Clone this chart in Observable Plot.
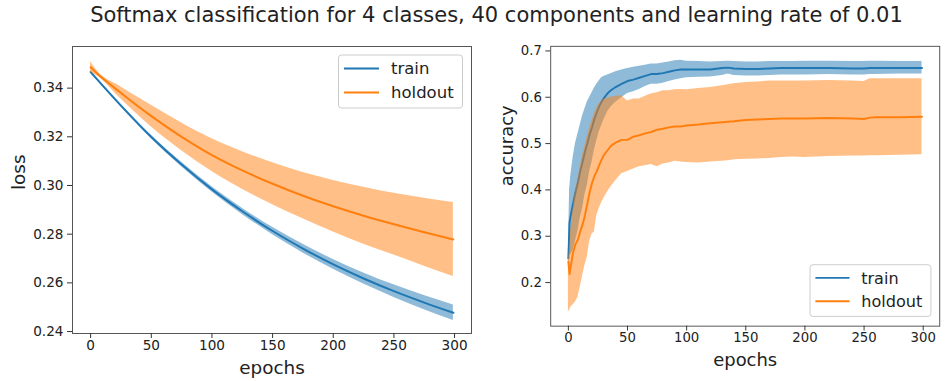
<!DOCTYPE html>
<html>
<head>
<meta charset="utf-8">
<script src="https://cdn.jsdelivr.net/npm/d3@7"></script>
<script src="https://cdn.jsdelivr.net/npm/@observablehq/plot@0.6"></script>
<style>
  html, body { margin: 0; padding: 0; background: #fff; overflow: hidden; }
  #page { position: relative; width: 948px; height: 381px; overflow: hidden; font-family: "DejaVu Sans", sans-serif; }
  #title { position: absolute; left: 0; top: 3px; width: 993px; text-align: center; font-size: 21px; color: #222; white-space: nowrap; }
  .panel { position: absolute; top: 40px; }
</style>
</head>
<body>
<div id="page">
  <div id="title">Softmax classification for 4 classes, 40 components and learning rate of 0.01</div>
  <div id="left" class="panel" style="left:0px"></div>
  <div id="right" class="panel" style="left:480px"></div>
</div>
<script>
// Series names and colours
const seriesNames = ["train", "holdout"];
const seriesColors = ["#1f77b4", "#ff7f0e"];

// Shared epoch ticks
const epochTicks = [0, 50, 100, 150, 200, 250, 300];

// Loss: mean and spread per epoch
const lossEpochs = [0, 5, 25, 50, 75, 100, 125, 150, 175, 200, 225, 250, 275, 299];
const trainLoss = [0.3466, 0.3438, 0.3328, 0.3199, 0.3086, 0.2984, 0.2894, 0.2813, 0.2741, 0.2676, 0.2618, 0.2566, 0.2519, 0.2477];
const trainLossStd = [0.0004, 0.0004, 0.0005, 0.0007, 0.0009, 0.0011, 0.0013, 0.0015, 0.0018, 0.0020, 0.0023, 0.0026, 0.0029, 0.0032];
const holdoutLoss = [0.3486, 0.3462, 0.3380, 0.3285, 0.3200, 0.3125, 0.3062, 0.3007, 0.2958, 0.2915, 0.2876, 0.2841, 0.2808, 0.2778];
const holdoutLossStd = [0.0022, 0.0011, 0.0025, 0.0045, 0.0057, 0.0067, 0.0077, 0.0086, 0.0095, 0.0106, 0.0117, 0.0127, 0.0140, 0.0152];
const lossTicks = [0.24, 0.26, 0.28, 0.30, 0.32, 0.34];

// Accuracy: mean with lower / upper band per epoch
const accEpochs = [
  0, 1, 2, 4, 6, 8, 10, 12, 14, 16,
  18, 20, 22, 24, 26, 28, 30, 33, 36, 40,
  45, 50, 55, 60, 65, 70, 75, 80, 85, 90,
  95, 100, 110, 120, 130, 135, 140, 150, 160, 170,
  180, 190, 200, 220, 240, 250, 255, 260, 280, 299
];
const trainAcc = [
  0.252, 0.330, 0.345, 0.370, 0.395, 0.415, 0.440, 0.460, 0.482, 0.500,
  0.520, 0.535, 0.553, 0.567, 0.580, 0.590, 0.598, 0.608, 0.615, 0.622,
  0.629, 0.635, 0.638, 0.642, 0.646, 0.650, 0.650, 0.652, 0.655, 0.658,
  0.660, 0.660, 0.660, 0.660, 0.663, 0.664, 0.662, 0.661, 0.661, 0.662,
  0.663, 0.663, 0.663, 0.663, 0.662, 0.662, 0.663, 0.663, 0.663, 0.663
];
const trainAccHi = [
  0.262, 0.400, 0.430, 0.470, 0.500, 0.520, 0.540, 0.560, 0.575, 0.590,
  0.600, 0.610, 0.620, 0.628, 0.635, 0.642, 0.645, 0.648, 0.651, 0.655,
  0.659, 0.662, 0.665, 0.667, 0.669, 0.672, 0.672, 0.674, 0.676, 0.679,
  0.680, 0.678, 0.677, 0.676, 0.677, 0.678, 0.677, 0.676, 0.676, 0.677,
  0.677, 0.677, 0.678, 0.678, 0.677, 0.677, 0.678, 0.678, 0.677, 0.677
];
const trainAccLo = [
  0.242, 0.260, 0.260, 0.270, 0.290, 0.310, 0.340, 0.360, 0.390, 0.410,
  0.440, 0.460, 0.486, 0.506, 0.525, 0.538, 0.551, 0.568, 0.579, 0.589,
  0.599, 0.608, 0.612, 0.617, 0.623, 0.628, 0.628, 0.630, 0.634, 0.637,
  0.640, 0.642, 0.643, 0.644, 0.647, 0.650, 0.647, 0.646, 0.646, 0.647,
  0.648, 0.648, 0.648, 0.649, 0.648, 0.648, 0.649, 0.649, 0.650, 0.650
];
const holdoutAcc = [
  0.245, 0.218, 0.235, 0.265, 0.283, 0.292, 0.310, 0.325, 0.345, 0.370,
  0.395, 0.415, 0.430, 0.440, 0.453, 0.465, 0.475, 0.485, 0.495, 0.502,
  0.508, 0.508, 0.515, 0.518, 0.522, 0.525, 0.530, 0.532, 0.535, 0.537,
  0.537, 0.539, 0.541, 0.544, 0.546, 0.547, 0.548, 0.551, 0.552, 0.553,
  0.554, 0.554, 0.554, 0.555, 0.554, 0.553, 0.556, 0.557, 0.557, 0.558
];
const holdoutAccHi = [
  0.250, 0.270, 0.310, 0.360, 0.400, 0.420, 0.450, 0.475, 0.495, 0.515,
  0.535, 0.550, 0.565, 0.577, 0.585, 0.592, 0.596, 0.598, 0.600, 0.602,
  0.603, 0.592, 0.596, 0.596, 0.602, 0.607, 0.610, 0.614, 0.614, 0.616,
  0.617, 0.616, 0.619, 0.621, 0.625, 0.627, 0.629, 0.632, 0.633, 0.635,
  0.635, 0.635, 0.635, 0.636, 0.635, 0.634, 0.640, 0.640, 0.640, 0.640
];
const holdoutAccLo = [
  0.137, 0.140, 0.147, 0.152, 0.158, 0.168, 0.190, 0.215, 0.237, 0.255,
  0.290, 0.305, 0.309, 0.345, 0.360, 0.372, 0.382, 0.395, 0.407, 0.420,
  0.435, 0.440, 0.445, 0.450, 0.452, 0.455, 0.450, 0.456, 0.458, 0.462,
  0.460, 0.459, 0.458, 0.460, 0.462, 0.463, 0.465, 0.466, 0.467, 0.468,
  0.470, 0.471, 0.470, 0.472, 0.473, 0.473, 0.474, 0.474, 0.475, 0.476
];
const accTicks = [0.2, 0.3, 0.4, 0.5, 0.6, 0.7];

// Rows for the library
const lossRows = lossEpochs.map((e, i) => ({
  epoch: e,
  train: trainLoss[i], trainLo: trainLoss[i] - trainLossStd[i], trainHi: trainLoss[i] + trainLossStd[i],
  holdout: holdoutLoss[i], holdoutLo: holdoutLoss[i] - holdoutLossStd[i], holdoutHi: holdoutLoss[i] + holdoutLossStd[i]
}));
const accRows = accEpochs.map((e, i) => ({
  epoch: e,
  train: trainAcc[i], trainLo: trainAccLo[i], trainHi: trainAccHi[i],
  holdout: holdoutAcc[i], holdoutLo: holdoutAccLo[i], holdoutHi: holdoutAccHi[i]
}));

const xDomain = [-14.95, 313.95];

function seriesMarks(rows, curve) {
  const marks = [];
  seriesNames.forEach((name, k) => {
    marks.push(Plot.lineY(rows, {x: "epoch", y: name, stroke: seriesColors[k], strokeWidth: 2, curve}));
    marks.push(Plot.areaY(rows, {x: "epoch", y1: name + "Lo", y2: name + "Hi", fill: seriesColors[k], fillOpacity: 0.5, curve}));
  });
  return marks;
}

function panel({rows, curve, yDomain, yTicks, yFormat, yLabel, yLabelDx}) {
  return Plot.plot({
    width: 480,
    height: 341,
    marginTop: 6,
    marginBottom: 48,
    marginLeft: 72,
    marginRight: 9,
    style: {fontFamily: "DejaVu Sans, sans-serif", fontSize: "13.6px", color: "#222", background: "transparent", overflow: "visible"},
    x: {domain: xDomain},
    y: {domain: yDomain},
    marks: [
      ...seriesMarks(rows, curve),
      Plot.frame({stroke: "#555", strokeWidth: 1}),
      Plot.axisX({ticks: epochTicks, tickSize: 5, tickPadding: 2, fontSize: 13.6, label: null, stroke: "#333"}),
      Plot.axisY({ticks: yTicks, tickFormat: d3.format(yFormat), tickSize: 5, tickPadding: 4, fontSize: 13.6, label: null, stroke: "#333"}),
      Plot.text(["epochs"], {text: d => d, frameAnchor: "bottom", dy: 35, fontSize: 18.4, lineAnchor: "middle", fill: "#222"}),
      Plot.text([yLabel], {text: d => d, frameAnchor: "left", dx: yLabelDx, rotate: -90, fontSize: 18.4, lineAnchor: "middle", fill: "#222"})
    ]
  });
}

function addLegend(svg, boxY) {
  const g = d3.select(svg).append("g")
    .attr("font-family", "DejaVu Sans, sans-serif")
    .attr("text-anchor", "start");
  g.append("rect")
    .attr("x", 338.5).attr("y", boxY).attr("width", 124).attr("height", 53)
    .attr("rx", 3).attr("fill", "#fff").attr("fill-opacity", 0.85)
    .attr("stroke", "#cccccc").attr("stroke-width", 1);
  seriesNames.forEach((name, k) => {
    const cy = boxY + 13.5 + k * 24;
    g.append("line").attr("x1", 344).attr("x2", 379).attr("y1", cy).attr("y2", cy)
      .attr("stroke", seriesColors[k]).attr("stroke-width", 2);
    g.append("text").attr("x", 391).attr("y", cy).attr("dy", "0.35em")
      .attr("text-anchor", "start")
      .attr("font-size", 16.5).attr("fill", "#222").text(name);
  });
}

const lossSvg = panel({
  rows: lossRows, curve: "monotone-x",
  yDomain: [0.2392, 0.3571], yTicks: lossTicks, yFormat: ".2f",
  yLabel: "loss", yLabelDx: -53
});
addLegend(lossSvg, 15);
document.getElementById("left").appendChild(lossSvg);

const accSvg = panel({
  rows: accRows, curve: "linear",
  yDomain: [0.1059, 0.7099], yTicks: accTicks, yFormat: ".1f",
  yLabel: "accuracy", yLabelDx: -45
});
addLegend(accSvg, 230.5);
document.getElementById("right").appendChild(accSvg);
</script>
</body>
</html>
